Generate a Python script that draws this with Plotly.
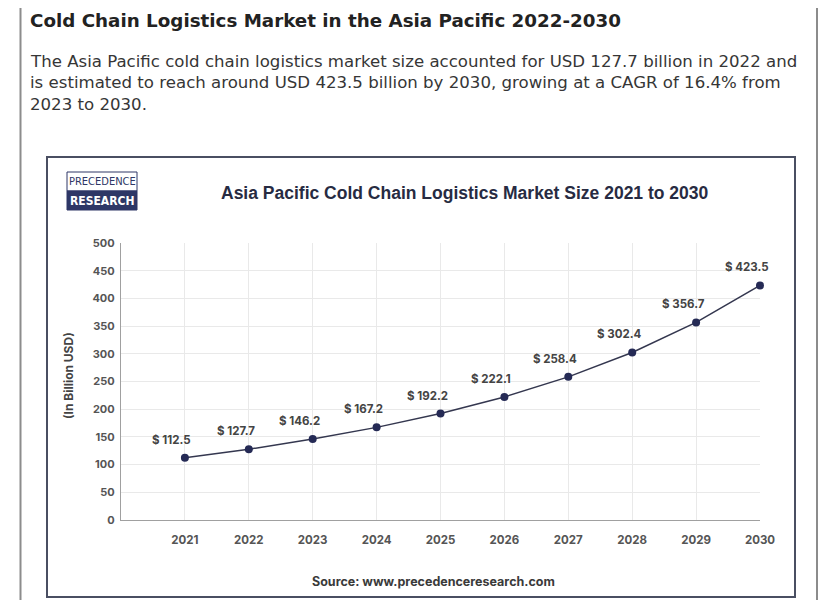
import plotly.graph_objects as go

years = [2021, 2022, 2023, 2024, 2025, 2026, 2027, 2028, 2029, 2030]
market_size = [112.5, 127.7, 146.2, 167.2, 192.2, 222.1, 258.4, 302.4, 356.7, 423.5]
value_labels = ["$ 112.5", "$ 127.7", "$ 146.2", "$ 167.2", "$ 192.2",
                "$ 222.1", "$ 258.4", "$ 302.4", "$ 356.7", "$ 423.5"]
y_ticks = [0, 50, 100, 150, 200, 250, 300, 350, 400, 450, 500]

header_title = "Cold Chain Logistics Market in the Asia Pacific 2022-2030"
paragraph_lines = [
    "The Asia Pacific cold chain logistics market size accounted for USD 127.7 billion in 2022 and",
    "is estimated to reach around USD 423.5 billion by 2030, growing at a CAGR of 16.4% from",
    "2023 to 2030.",
]
chart_title = "Asia Pacific Cold Chain Logistics Market Size 2021 to 2030"
y_title = "(In Billion USD)"
source_text = "Source: www.precedenceresearch.com"

OFF = 8  # page offset of the figure inside the browser window
W, H = 828 - OFF, 600 - OFF
PL, PR, PT, PB = 121, 760, 243, 520  # plot area in page pixels


def px(x):
    return (x - PL) / (PR - PL)


def py(y):
    return (PB - y) / (PB - PT)


HEAD_FONT = "DejaVu Sans, sans-serif"
CHART_FONT = "Inter, Roboto, sans-serif"

fig = go.Figure()
fig.add_trace(go.Scatter(
    x=years, y=market_size, mode="lines+markers",
    line=dict(color="#34374f", width=1.5),
    marker=dict(color="#252a55", size=8),
    hoverinfo="x+y", showlegend=False, cliponaxis=False,
))

annotations = []
for yr, v, lab in zip(years, market_size, value_labels):
    annotations.append(dict(
        x=yr, y=v, xref="x", yref="y", text=lab, showarrow=False,
        xshift=-13, yshift=18,
        font=dict(family=CHART_FONT, size=11.5, color="#444444", weight="bold"),
    ))

# header
annotations.append(dict(
    x=px(28), y=py(20), xref="paper", yref="paper", xanchor="left", yanchor="middle",
    text="<b>" + header_title + "</b>", showarrow=False,
    font=dict(family=HEAD_FONT, size=18.3, color="#222222"),
))
for i, line in enumerate(paragraph_lines):
    annotations.append(dict(
        x=px(28), y=py(61 + 21.5 * i), xref="paper", yref="paper", xanchor="left", yanchor="middle",
        text=line, showarrow=False,
        font=dict(family=HEAD_FONT, size=16.6, color="#363636"),
    ))

# chart title
annotations.append(dict(
    x=px(465), y=py(193), xref="paper", yref="paper", xanchor="center", yanchor="middle",
    text=chart_title, showarrow=False,
    font=dict(family="Liberation Sans, Arial, sans-serif", size=17.5, color="#272b42", weight="bold"),
))
# y title
annotations.append(dict(
    x=px(68), y=py(376), xref="paper", yref="paper", xanchor="center", yanchor="middle",
    text=y_title, textangle=-90, showarrow=False,
    font=dict(family=CHART_FONT, size=12, color="#444444", weight="bold"),
))
# source
annotations.append(dict(
    x=px(433), y=py(581), xref="paper", yref="paper", xanchor="center", yanchor="middle",
    text=source_text, showarrow=False,
    font=dict(family=CHART_FONT, size=12.5, color="#3a3a3a", weight="bold"),
))
# logo texts
annotations.append(dict(
    x=px(102), y=py(181.5), xref="paper", yref="paper", xanchor="center", yanchor="middle",
    text="PRECEDENCE", showarrow=False,
    font=dict(family="Liberation Sans Narrow, DejaVu Sans Condensed, Liberation Sans, sans-serif",
              size=11, color="#2e3766"),
))
annotations.append(dict(
    x=px(102), y=py(200.5), xref="paper", yref="paper", xanchor="center", yanchor="middle",
    text="RESEARCH", showarrow=False,
    font=dict(family="Liberation Sans Narrow, DejaVu Sans Condensed, Liberation Sans, sans-serif",
              size=12, color="#ffffff", weight="bold"),
))

shapes = [
    # outer page border (left and right sides; right kept inside the visible area)
    dict(type="line", xref="paper", yref="paper", x0=px(20.5), x1=px(20.5), y0=py(3), y1=py(600),
         line=dict(color="#8c8c8c", width=2), layer="below"),
    dict(type="line", xref="paper", yref="paper", x0=px(817), x1=px(817), y0=py(3), y1=py(600),
         line=dict(color="#8c8c8c", width=2), layer="below"),
    # inner chart box
    dict(type="rect", xref="paper", yref="paper", x0=px(47), x1=px(795), y0=py(157), y1=py(597),
         line=dict(color="#4a4f62", width=2), fillcolor="rgba(0,0,0,0)", layer="below"),
    # logo
    dict(type="rect", xref="paper", yref="paper", x0=px(67), x1=px(137), y0=py(172), y1=py(191),
         line=dict(color="#2e3766", width=1), fillcolor="#ffffff"),
    dict(type="rect", xref="paper", yref="paper", x0=px(67), x1=px(137), y0=py(191), y1=py(210),
         line=dict(color="#2e3766", width=1), fillcolor="#2e3766"),
]

fig.update_layout(
    width=W, height=H,
    margin=dict(l=PL - OFF, r=(W + OFF) - PR, t=PT - OFF, b=(H + OFF) - PB, pad=0),
    paper_bgcolor="#ffffff", plot_bgcolor="#ffffff",
    annotations=annotations, shapes=shapes,
    xaxis=dict(
        range=[2020, 2030], tickmode="array", tickvals=years, ticktext=[str(y) for y in years],
        showgrid=True, gridcolor="#e9e9e9", gridwidth=1,
        showline=True, linecolor="#a0a0a0", linewidth=1.2,
        zeroline=False, ticks="", ticklabelstandoff=9,
        tickfont=dict(family=CHART_FONT, size=11.5, color="#555555", weight="bold"),
    ),
    yaxis=dict(
        range=[0, 500], tickmode="array", tickvals=y_ticks,
        showgrid=True, gridcolor="#e9e9e9", gridwidth=1,
        showline=True, linecolor="#a0a0a0", linewidth=1.2,
        zeroline=False, ticks="", ticklabelstandoff=3,
        tickfont=dict(family=CHART_FONT, size=11, color="#555555", weight="bold"),
    ),
)

fig.write_html("out.html")
